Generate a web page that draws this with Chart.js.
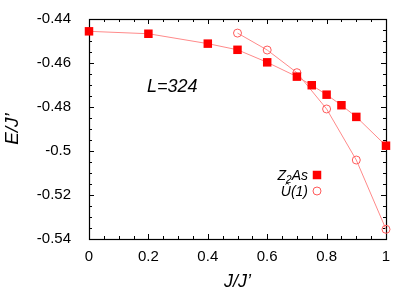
<!DOCTYPE html>
<html>
<head>
<meta charset="utf-8">
<style>
  html, body { margin: 0; padding: 0; background: #fff; }
  #c { display: block; }
</style>
</head>
<body>
<canvas id="c" width="415" height="291"></canvas>
<script src="https://cdn.jsdelivr.net/npm/chart.js@4.4.1/dist/chart.umd.min.js"></script>
<script>
// ---------------- DATA ----------------
const z2asJ = [0, 0.2, 0.4, 0.5, 0.6, 0.7, 0.75, 0.8, 0.85, 0.9, 1.0];
const z2asE = [-0.4456, -0.4467, -0.4512, -0.4540, -0.4597, -0.4662, -0.4701, -0.4744, -0.4792, -0.4845, -0.4976];

const u1J = [0.5, 0.6, 0.7, 0.8, 0.9, 1.0];
const u1E = [-0.4464, -0.4541, -0.4644, -0.4809, -0.5041, -0.5356];

const xTicks = [0, 0.2, 0.4, 0.6, 0.8, 1];
const yTicks = [-0.54, -0.52, -0.5, -0.48, -0.46, -0.44];

const FONT = "'Liberation Sans', Arial, Helvetica, sans-serif";
const LINE_COLOR = "#ff8a8a";
const RED = "#ff0000";

// ---------------- FRAME + INWARD TICKS ----------------
const framePlugin = {
    id: "frame",
    beforeDatasetsDraw(chart) {
        const { ctx, chartArea: a, scales } = chart;
        const x = scales.x, y = scales.y;
        ctx.save();
        ctx.strokeStyle = "#000";
        ctx.lineWidth = 1;
        ctx.beginPath();

        // x ticks every 0.05, major every 0.2
        for (let i = 0; i <= 20; i++) {
            const px = Math.round(x.getPixelForValue(i * 0.05)) + 0.5;
            const len = i % 4 === 0 ? 5 : 3;
            ctx.moveTo(px, a.bottom);
            ctx.lineTo(px, a.bottom - len);
            ctx.moveTo(px, a.top);
            ctx.lineTo(px, a.top + len);
        }
        // y ticks every 0.005, major every 0.02
        for (let i = 0; i <= 20; i++) {
            const py = Math.round(y.getPixelForValue(-0.54 + i * 0.005)) + 0.5;
            const len = i % 4 === 0 ? 5 : 3;
            ctx.moveTo(a.left, py);
            ctx.lineTo(a.left + len, py);
            ctx.moveTo(a.right, py);
            ctx.lineTo(a.right - len, py);
        }
        ctx.stroke();

        ctx.lineWidth = 1.2;
        ctx.strokeRect(Math.round(a.left) + 0.5, Math.round(a.top) + 0.5,
            Math.round(a.right) - Math.round(a.left), Math.round(a.bottom) - Math.round(a.top));
        ctx.restore();
    }
};

// ---------------- LABEL + LEGEND ----------------
const labelPlugin = {
    id: "labels",
    afterDraw(chart) {
        const ctx = chart.ctx;
        ctx.save();
        ctx.fillStyle = "#000";

        // L=324
        ctx.font = "italic 18px " + FONT;
        ctx.textAlign = "left";
        ctx.textBaseline = "alphabetic";
        ctx.fillText("L=324", 147, 92);

        // legend, gnuplot style: text right aligned, sample to the right
        const tx = 308, mx = 317;
        ctx.textAlign = "right";
        ctx.font = "italic 14px " + FONT;
        let w = ctx.measureText("As").width;
        ctx.fillText("As", tx, 180);
        ctx.font = "italic 10px " + FONT;
        const w2 = ctx.measureText("2").width;
        ctx.fillText("2", tx - w, 183);
        ctx.font = "italic 14px " + FONT;
        ctx.fillText("Z", tx - w - w2, 180);

        ctx.fillText("\u00DB(1)", tx, 196);

        const ds0 = chart.data.datasets[0], ds1 = chart.data.datasets[1];
        ctx.fillStyle = ds0.pointBackgroundColor;
        const s = ds0.pointRadius * Math.SQRT1_2;
        ctx.fillRect(mx - s, 175 - s, 2 * s, 2 * s);

        ctx.strokeStyle = ds1.pointBorderColor;
        ctx.lineWidth = ds1.pointBorderWidth;
        ctx.beginPath();
        ctx.arc(mx, 191, ds1.pointRadius, 0, Math.PI * 2);
        ctx.stroke();
        ctx.restore();
    }
};

// ---------------- CHART ----------------
new Chart(document.getElementById("c"), {
    type: "line",
    data: {
        datasets: [{
            label: "Z2As",
            data: z2asJ.map((j, i) => ({ x: j, y: z2asE[i] })),
            borderColor: LINE_COLOR,
            borderWidth: 1,
            pointStyle: "rect",
            pointRadius: 6,
            pointBorderWidth: 0,
            pointBackgroundColor: RED,
            pointBorderColor: RED,
            clip: false
        }, {
            label: "U(1)",
            data: u1J.map((j, i) => ({ x: j, y: u1E[i] })),
            borderColor: LINE_COLOR,
            borderWidth: 1,
            pointStyle: "circle",
            pointRadius: 4,
            pointBorderWidth: 1,
            pointBackgroundColor: "rgba(0,0,0,0)",
            pointBorderColor: "#ff5a5a",
            clip: false
        }]
    },
    options: {
        responsive: false,
        animation: false,
        layout: { padding: { top: 19, right: 29, left: 0, bottom: 0 } },
        plugins: { legend: { display: false }, tooltip: { enabled: false } },
        scales: {
            x: {
                type: "linear",
                min: 0,
                max: 1,
                afterBuildTicks: s => { s.ticks = xTicks.map(v => ({ value: v })); },
                afterFit: s => { s.height = 52; },
                grid: { display: false },
                border: { display: false },
                ticks: {
                    padding: 1,
                    color: "#000",
                    font: { family: FONT, size: 15 },
                    callback: v => String(v)
                },
                title: {
                    display: true,
                    text: "J/J\u2019",
                    color: "#000",
                    font: { family: FONT, size: 18, style: "italic", lineHeight: 1 },
                    padding: { top: 0, bottom: 0 }
                }
            },
            y: {
                min: -0.54,
                max: -0.44,
                afterBuildTicks: s => { s.ticks = yTicks.map(v => ({ value: v })); },
                afterFit: s => { s.width = 89; },
                grid: { display: false },
                border: { display: false },
                ticks: {
                    padding: 10,
                    color: "#000",
                    font: { family: FONT, size: 15 },
                    callback: v => String(v)
                },
                title: {
                    display: true,
                    text: "E/J\u2019",
                    color: "#000",
                    font: { family: FONT, size: 19, style: "italic" },
                    padding: { top: 1, bottom: 0 }
                }
            }
        }
    },
    plugins: [framePlugin, labelPlugin]
});
</script>
</body>
</html>
